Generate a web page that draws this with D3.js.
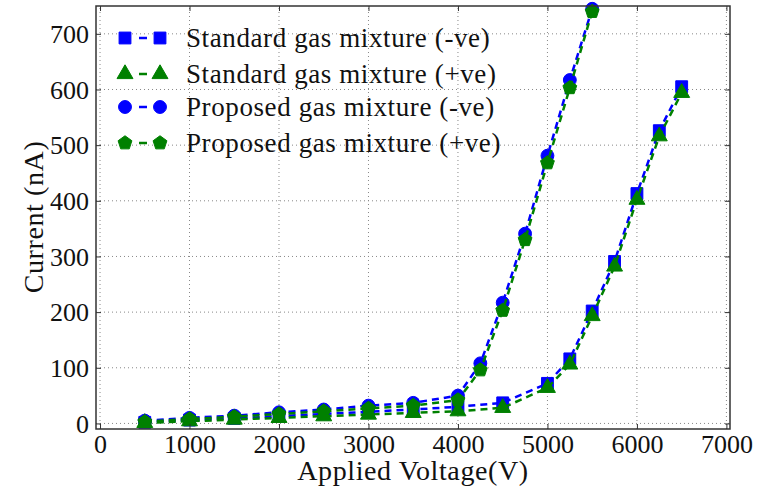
<!DOCTYPE html>
<html>
<head>
<meta charset="utf-8">
<script src="https://cdn.jsdelivr.net/npm/d3@7"></script>
<style>
  body { margin: 0; background: #fff; }
  svg text { font-family: "Liberation Serif", "Times New Roman", serif; fill: #111; }
</style>
</head>
<body>
<svg id="chart" width="769" height="490"></svg>
<script>
// voltages (V)
var voltStd = [500, 1000, 1500, 2000, 2500, 3000, 3500, 4000, 4500, 5000, 5250, 5500, 5750, 6000, 6250, 6500];
var voltProp = [500, 1000, 1500, 2000, 2500, 3000, 3500, 4000, 4250, 4500, 4750, 5000, 5250, 5500];

// currents (nA)
var stdNeg = [2, 6, 9, 13, 17, 21, 25, 30, 37, 72, 116, 202, 291, 413, 526, 605];
var stdPos = [1, 4, 7, 10, 13, 16, 19, 22, 28, 64, 106, 193, 282, 402, 516, 594];
var propNeg = [5, 10, 14, 20, 25, 32, 37, 50, 108, 217, 341, 481, 617, 745];
var propPos = [3, 8, 12, 17, 22, 27, 32, 42, 96, 203, 330, 468, 603, 740];

var seriesNames = ["Standard gas mixture (-ve)", "Standard gas mixture (+ve)", "Proposed gas mixture (-ve)", "Proposed gas mixture (+ve)"];

var xTicks = [0, 1000, 2000, 3000, 4000, 5000, 6000, 7000];
var yTicks = [0, 100, 200, 300, 400, 500, 600, 700];

!function() {

  var svg = d3.select("#chart");

  var x = d3.scaleLinear().domain([-45, 7040]).range([96, 730]);
  var y = d3.scaleLinear().domain([-10, 750]).range([429, 6]);

  // pentagon symbol
  var pentagon = {
    draw: function(context, size) {
      var r = Math.sqrt(size / 2.378);
      for (var i = 0; i < 5; i++) {
        var a = -Math.PI / 2 + i * 2 * Math.PI / 5;
        if (i === 0) context.moveTo(r * Math.cos(a), r * Math.sin(a));
        else context.lineTo(r * Math.cos(a), r * Math.sin(a));
      }
      context.closePath();
    }
  };

  var series = [
    { name: seriesNames[0], xs: voltStd, ys: stdNeg, color: "#0000ff", symbol: d3.symbolSquare, size: 140 },
    { name: seriesNames[1], xs: voltStd, ys: stdPos, color: "#008000", symbol: d3.symbolTriangle, size: 110 },
    { name: seriesNames[2], xs: voltProp, ys: propNeg, color: "#0000ff", symbol: d3.symbolCircle, size: 130 },
    { name: seriesNames[3], xs: voltProp, ys: propPos, color: "#008000", symbol: pentagon, size: 125 }
  ];

  // grid
  var grid = svg.append("g");
  xTicks.forEach(function(t) {
    grid.append("line")
      .attr("x1", x(t)).attr("x2", x(t))
      .attr("y1", y.range()[0]).attr("y2", y.range()[1])
      .attr("stroke", "#888").attr("stroke-width", 1).attr("stroke-dasharray", "1,3");
  });
  yTicks.forEach(function(t) {
    grid.append("line")
      .attr("x1", x.range()[0]).attr("x2", x.range()[1])
      .attr("y1", y(t)).attr("y2", y(t))
      .attr("stroke", "#888").attr("stroke-width", 1).attr("stroke-dasharray", "1,3");
  });

  svg.append("defs").append("clipPath").attr("id", "clip")
    .append("rect")
    .attr("x", 96).attr("y", 6).attr("width", 634).attr("height", 423);

  var line = d3.line()
    .x(function(d) { return x(d[0]); })
    .y(function(d) { return y(d[1]); });

  series.forEach(function(s) {
    var pts = s.xs.map(function(v, i) { return [v, s.ys[i]]; });
    var g = svg.append("g");
    g.append("path")
      .datum(pts)
      .attr("d", line)
      .attr("clip-path", "url(#clip)")
      .attr("fill", "none")
      .attr("stroke", s.color)
      .attr("stroke-width", 2.5)
      .attr("stroke-dasharray", "7,5");
    g.selectAll("path.mk")
      .data(pts)
      .enter().append("path")
      .attr("class", "mk")
      .attr("d", d3.symbol().type(s.symbol).size(s.size))
      .attr("transform", function(d) { return "translate(" + x(d[0]) + "," + y(d[1]) + ")"; })
      .attr("fill", s.color)
      .attr("stroke", s.color)
      .attr("stroke-width", 1);
  });

  // axes (ticks inward on all sides)
  var axBottom = svg.append("g").attr("transform", "translate(0,429)")
    .call(d3.axisBottom(x).tickValues(xTicks).tickSizeInner(-5).tickSizeOuter(0).tickPadding(6).tickFormat(d3.format("d")));
  var axLeft = svg.append("g").attr("transform", "translate(96,0)")
    .call(d3.axisLeft(y).tickValues(yTicks).tickSizeInner(-5).tickSizeOuter(0).tickPadding(7).tickFormat(d3.format("d")));
  var axTop = svg.append("g").attr("transform", "translate(0,6)")
    .call(d3.axisTop(x).tickValues(xTicks).tickSizeInner(-5).tickSizeOuter(0).tickFormat(""));
  var axRight = svg.append("g").attr("transform", "translate(730,0)")
    .call(d3.axisRight(y).tickValues(yTicks).tickSizeInner(-5).tickSizeOuter(0).tickFormat(""));

  [axBottom, axLeft, axTop, axRight].forEach(function(g) {
    g.select(".domain").remove();
    g.selectAll(".tick line").attr("stroke", "#333").attr("stroke-width", 1);
    g.attr("font-family", null).attr("font-size", null);
  });
  axBottom.selectAll(".tick text").attr("font-size", 26).attr("fill", "#111").attr("dy", "0.71em");
  axLeft.selectAll(".tick text").attr("font-size", 26).attr("fill", "#111").attr("dy", "0.34em");

  // frame
  svg.append("rect")
    .attr("x", 96).attr("y", 6).attr("width", 634).attr("height", 423)
    .attr("fill", "none").attr("stroke", "#333").attr("stroke-width", 1.5);

  // axis labels
  svg.append("text")
    .attr("x", 413).attr("y", 480)
    .attr("text-anchor", "middle")
    .attr("font-size", 28)
    .attr("letter-spacing", 0.6)
    .text("Applied Voltage(V)");

  svg.append("text")
    .attr("transform", "translate(43,217) rotate(-90)")
    .attr("text-anchor", "middle")
    .attr("font-size", 28)
    .attr("letter-spacing", 0.6)
    .text("Current (nA)");

  // legend
  var legend = svg.append("g");
  var rowY = [38, 74, 107, 143];
  series.forEach(function(s, i) {
    var g = legend.append("g").attr("transform", "translate(0," + rowY[i] + ")");
    g.append("line")
      .attr("x1", 139).attr("x2", 147)
      .attr("stroke", s.color).attr("stroke-width", 2.5);
    [125, 160].forEach(function(mx) {
      g.append("path")
        .attr("d", d3.symbol().type(s.symbol).size(s.size))
        .attr("transform", "translate(" + mx + ",0)")
        .attr("fill", s.color).attr("stroke", s.color);
    });
    g.append("text")
      .attr("x", 186).attr("dy", "0.33em")
      .attr("font-size", 27)
      .attr("letter-spacing", 0.6)
      .text(s.name);
  });

}();
</script>
</body>
</html>
